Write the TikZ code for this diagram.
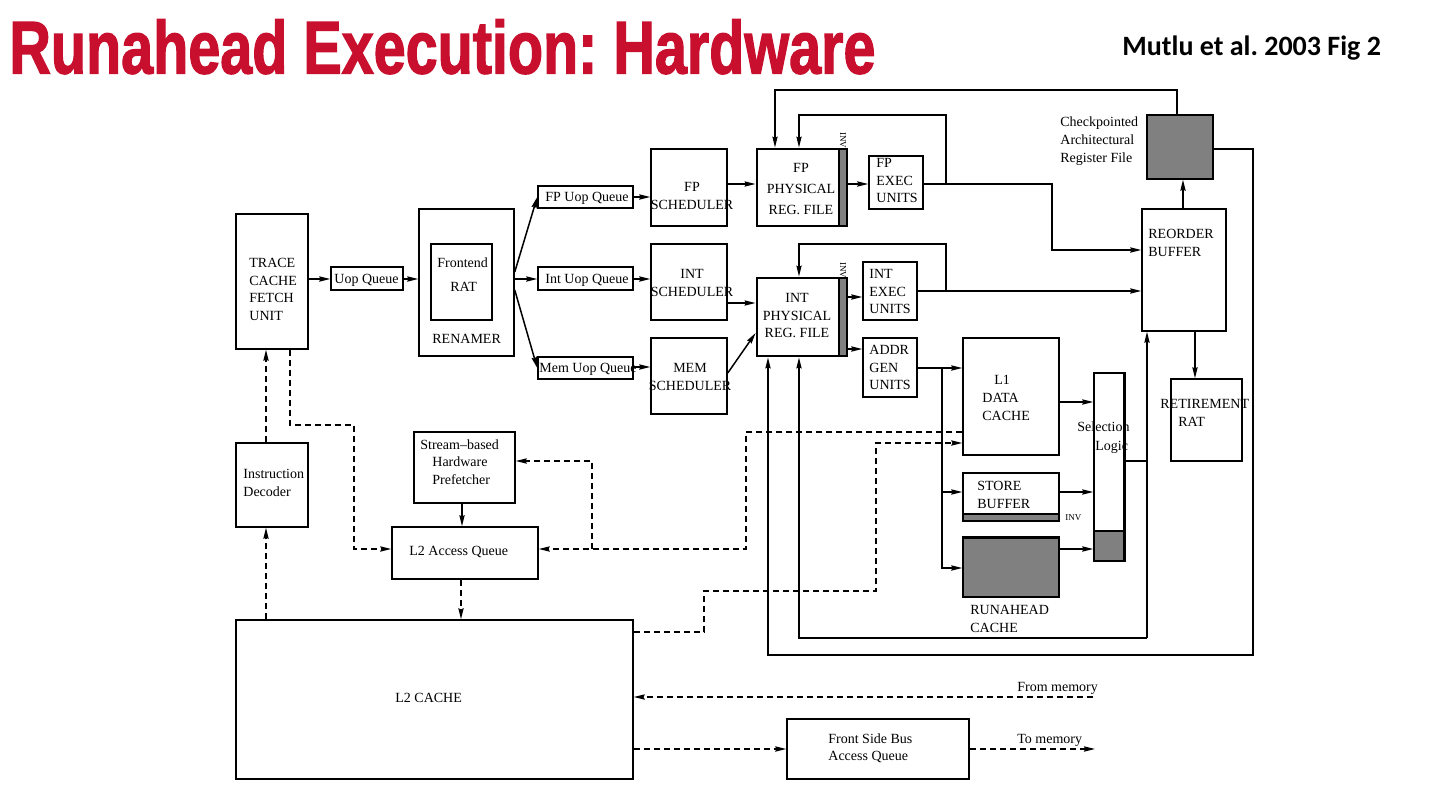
\documentclass[tikz,border=0pt]{standalone}
\usepackage{fontspec}
\setmainfont{Liberation Serif}
\newfontfamily\titlefont{Liberation Sans}[FakeBold=2]
\newfontfamily\citefont{Carlito}
\usetikzlibrary{fit,arrows.meta}
\definecolor{titlered}{RGB}{200,16,46}
\definecolor{fillgray}{RGB}{128,128,128}
\frenchspacing
\begin{document}
\begin{tikzpicture}[x=0.5pt, y=-0.5pt,
  box/.style={draw, line width=0.75pt, inner sep=0pt},
  regbox/.style={draw, line width=1.4pt, inner sep=0pt},
  lbl/.style={inner sep=0pt, font=\fontsize{7}{8.8}\selectfont, align=left, anchor=north west},
  lblc/.style={lbl, align=center, anchor=north},
  one/.style={inner sep=0pt, font=\fontsize{7}{8.8}\selectfont, anchor=base west},
  inv/.style={inner sep=0pt, font=\fontsize{4.5}{5}\selectfont},
  wire/.style={line width=0.75pt},
  arr/.style={wire, -{Stealth[length=5.5pt,width=2.6pt,inset=0.6pt]}},
  darr/.style={arr, dash pattern=on 3pt off 2pt},
  dwire/.style={wire, dash pattern=on 3pt off 2pt},
]
\useasboundingbox (0,0) rectangle (1448,788);

% ---- headings
\node[anchor=north west, inner sep=0pt, text=titlered] (title) at (9,19)
  {\resizebox{433pt}{27pt}{\titlefont\bfseries Runahead Execution: Hardware}};
\node[anchor=base west, inner sep=0pt, font=\citefont\bfseries\fontsize{14}{16}\selectfont] (cite) at (1122,55)
  {Mutlu et al.\ 2003 Fig 2};

% ---- front end
\node[box, fit={(236,214) (308,349)}] (tcfu) {};
\node[box, fit={(331,267) (403,290)}] (uopq) {};
\node[box, fit={(419,209) (514,356)}] (ren) {};
\node[box, fit={(431,244) (492,320)}] (frat) {};
\node[box, fit={(538,186) (633,208)}] (fpq) {};
\node[box, fit={(538,267) (633,290)}] (intq) {};
\node[box, fit={(538,357) (633,379)}] (memq) {};
\node[box, fit={(651,149) (727,226)}] (fpsch) {};
\node[box, fit={(651,244) (727,320)}] (intsch) {};
\node[box, fit={(651,338) (727,414)}] (memsch) {};

% ---- register files with INV bits
\node[box, fill=fillgray, fit={(839,149) (847,226)}] (fpbar) {};
\node[regbox, fit={(757,149) (847,226)}] (fpreg) {};
\node[box, fill=fillgray, fit={(839,278) (847,356)}] (intbar) {};
\node[regbox, fit={(757,278) (847,356)}] (intreg) {};
\node[inv, rotate=-90] (fpinv) at (843,140) {INV};
\node[inv, rotate=-90] (intinv) at (843,270) {INV};

% ---- execution
\node[box, fit={(869,156) (923,209)}] (fpex) {};
\node[box, fit={(863,262) (917,320)}] (intex) {};
\node[box, fit={(863,338) (917,397)}] (agu) {};

% ---- memory side
\node[box, fit={(963,338) (1059,455)}] (l1) {};
\node[box, fill=fillgray, fit={(963,514) (1059,521)}] (sbinvbar) {};
\node[box, fit={(963,473) (1059,521)}] (sb) {};
\node[inv, anchor=base west] (sbinv) at (1065,520) {INV};
\node[box, fill=fillgray, fit={(963,538) (1059,597)}] (rac) {};
\draw[line width=1.4pt] (rac.north west) -- (rac.north east);
\node[box, fit={(1094,373) (1124,561)}] (sl) {};
\node[box, fill=fillgray, fit={(1094,531) (1124,561)}] (slbar) {};
\draw[line width=1.6pt] (sl.north east) -- (sl.south east);

% ---- retirement
\node[box, fill=fillgray, fit={(1147,115) (1213,179)}] (ckpt) {};
\node[box, fit={(1142,209) (1226,331)}] (rob) {};
\node[box, fit={(1171,379) (1242,461)}] (rrat) {};

% ---- L2 side
\node[box, fit={(236,443) (308,527)}] (id) {};
\node[box, fit={(414,432) (515,503)}] (pf) {};
\node[box, fit={(392,527) (538,579)}] (l2q) {};
\node[box, fit={(236,620) (633,779)}] (l2) {};
\node[box, fit={(787,719) (969,779)}] (fsb) {};

% ---- labels
\node[lbl] at (249,258) {TRACE\\CACHE\\FETCH\\UNIT};
\node[one] at (334,283) {Uop Queue};
\node[one] at (437,267) {Frontend};
\node[one] at (450,291) {RAT};
\node[one] at (432,343) {RENAMER};
\node[one] at (545,201) {FP Uop Queue};
\node[one] at (545,283) {Int Uop Queue};
\node[one] at (539,372) {Mem Uop Queue};
\node[lblc] at (692,182) {FP\\SCHEDULER};
\node[lblc] at (692,269) {INT\\SCHEDULER};
\node[lblc] at (690,363) {MEM\\SCHEDULER};
\node[lblc, font=\fontsize{7}{10.5}\selectfont] at (801,163) {FP\\PHYSICAL\\REG. FILE};
\node[lblc] at (797,293) {INT\\PHYSICAL\\REG. FILE};
\node[lbl] at (876,158) {FP\\EXEC\\UNITS};
\node[lbl] at (869,269) {INT\\EXEC\\UNITS};
\node[lbl] at (869,345) {ADDR\\GEN\\UNITS};
\node[lbl, font=\fontsize{7}{9}\selectfont] at (1060,116) {Checkpointed\\Architectural\\Register File};
\node[lbl] at (1148,229) {REORDER\\BUFFER};
\node[lbl] at (1160,399) {RETIREMENT\\\hspace*{9pt}RAT};
\node[lbl, font=\fontsize{7}{9}\selectfont] at (982,375) {\hspace*{6pt}L1\\DATA\\CACHE};
\node[lbl, font=\fontsize{7}{9.5}\selectfont] at (1077,421) {Selection\\\hspace*{9pt}Logic};
\node[lbl] at (977,481) {STORE\\BUFFER};
\node[lbl] at (970,605) {RUNAHEAD\\CACHE};
\node[lbl] at (420,439) {Stream–based\\\hspace*{6pt}Hardware\\\hspace*{6pt}Prefetcher};
\node[lbl] at (243,469) {Instruction\\Decoder};
\node[one] at (409,555) {L2 Access Queue};
\node[one] at (395,702) {L2 CACHE};
\node[one] at (1017,691) {From memory};
\node[one] at (1017,743) {To memory};
\node[lbl] at (828,733) {Front Side Bus\\Access Queue};

% ---- front-end connectors
\draw[arr] (tcfu.east |- 0,279) -- (uopq.west |- 0,279);
\draw[arr] (uopq.east |- 0,279) -- (ren.west |- 0,279);
\draw[arr] (ren.east |- 0,272) -- (fpq.west |- 0,197);
\draw[arr] (ren.east |- 0,279) -- (intq.west |- 0,279);
\draw[arr] (ren.east |- 0,290) -- (memq.west |- 0,368);
\draw[arr] (fpq.east |- 0,197) -- (fpsch.west |- 0,197);
\draw[arr] (intq.east |- 0,279) -- (intsch.west |- 0,279);
\draw[arr] (memq.east |- 0,367) -- (memsch.west |- 0,367);
\draw[arr] (fpsch.east |- 0,184) -- (fpreg.west |- 0,184);
\draw[arr] (intsch.east |- 0,303) -- (intreg.west |- 0,303);
\draw[arr] (memsch.east |- 0,373) -- (intreg.west |- 0,333);
\draw[arr] (fpreg.east |- 0,184) -- (fpex.west |- 0,184);
\draw[arr] (intreg.east |- 0,297) -- (intex.west |- 0,297);
\draw[arr] (intreg.east |- 0,349) -- (agu.west |- 0,349);

% ---- results and bypass
\coordinate (fpj) at (946,184);
\coordinate (intj) at (946,291);
\draw[arr] (fpex.east |- 0,184) -- (fpj) -- (946,115) -- (799,115) -- (fpreg.north -| 799,0);
\draw[arr] (fpj) -- (1052,184) -- (1052,250) -- (rob.west |- 0,250);
\draw[arr] (ckpt.north -| 1177,0) -- (1177,90) -- (775,90) -- (fpreg.north -| 775,0);
\draw[arr] (intex.east |- 0,291) -- (intj) -- (946,244) -- (799,244) -- (intreg.north -| 799,0);
\draw[arr] (intj) -- (rob.west |- 0,291);

% ---- address generation to the data side
\coordinate (aguj) at (942,368);
\draw[wire] (agu.east |- 0,368) -- (aguj);
\draw[arr] (aguj) -- (l1.west |- 0,368);
\draw[arr] (aguj) -- (942,568) -- (rac.west |- 0,568);
\draw[arr] (942,492) -- (sb.west |- 0,492);
\draw[arr] (l1.east |- 0,402) -- (sl.west |- 0,402);
\draw[arr] (sb.east |- 0,492) -- (sl.west |- 0,492);
\draw[arr] (rac.east |- 0,549) -- (sl.west |- 0,549);

% ---- selection logic to ROB and INT register file
\coordinate (slj) at (1147,638);
\draw[wire] (sl.east |- 0,461) -- (1147,461);
\draw[arr] (slj) -- (rob.south -| 1147,0);
\draw[arr] (slj) -- (799,638) -- (intreg.south -| 799,0);
\draw[arr] (ckpt.east |- 0,149) -- (1253,149) -- (1253,655) -- (768,655) -- (intreg.south -| 768,0);
\draw[arr] (rob.north -| 1183,0) -- (ckpt.south -| 1183,0);
\draw[arr] (rob.south -| 1195,0) -- (rrat.north -| 1195,0);

% ---- L2 traffic (dashed)
\draw[darr] (tcfu.south -| 290,0) -- (290,425) -- (354,425) -- (354,549) -- (l2q.west |- 0,549);
\draw[darr] (id.north -| 266,0) -- (tcfu.south -| 266,0);
\draw[darr] (l2.north -| 266,0) -- (id.south -| 266,0);
\draw[darr] (l2q.south -| 461,0) -- (l2.north -| 461,0);
\draw[arr] (pf.south -| 462,0) -- (l2q.north -| 462,0);
\draw[darr] (l1.west |- 0,432) -- (746,432) -- (746,549) -- (l2q.east |- 0,549);
\draw[darr] (592,549) -- (592,461) -- (pf.east |- 0,461);
\draw[darr] (l2.east |- 0,632) -- (704,632) -- (704,591) -- (876,591) -- (876,443) -- (l1.west |- 0,443);
\coordinate (frommem) at (1093,697);
\coordinate (tomem) at (1095,749);
\draw[darr] (frommem) -- (l2.east |- 0,697);
\draw[darr] (l2.east |- 0,749) -- (fsb.west |- 0,749);
\draw[darr] (fsb.east |- 0,749) -- (tomem);
\end{tikzpicture}
\end{document}
